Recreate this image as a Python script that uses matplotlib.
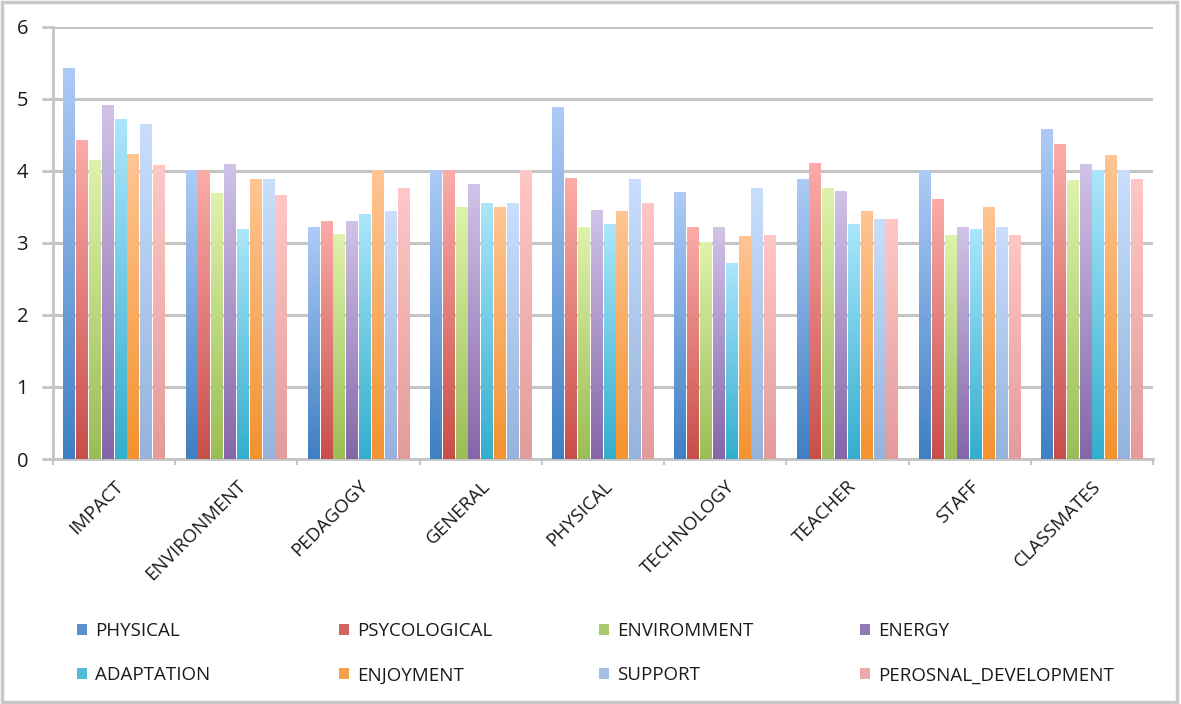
import numpy as np
import matplotlib
matplotlib.use("Agg")
import matplotlib.pyplot as plt
from matplotlib.colors import LinearSegmentedColormap
from matplotlib.patches import Rectangle

plt.rcParams['font.family'] = ['Open Sans', 'DejaVu Sans']

categories = ["IMPACT", "ENVIRONMENT", "PEDAGOGY", "GENERAL", "PHYSICAL",
              "TECHNOLOGY", "TEACHER", "STAFF", "CLASSMATES"]
series = ["PHYSICAL", "PSYCOLOGICAL", "ENVIROMMENT", "ENERGY",
          "ADAPTATION", "ENJOYMENT", "SUPPORT", "PEROSNAL_DEVELOPMENT"]

physical = [5.42, 4.00, 3.21, 4.00, 4.88, 3.70, 3.88, 4.00, 4.57]
psycological = [4.42, 4.00, 3.29, 4.00, 3.89, 3.21, 4.10, 3.60, 4.36]
enviromment = [4.14, 3.69, 3.11, 3.49, 3.21, 3.00, 3.76, 3.10, 3.87]
energy = [4.90, 4.09, 3.29, 3.81, 3.45, 3.21, 3.71, 3.21, 4.09]
adaptation = [4.71, 3.18, 3.39, 3.54, 3.26, 2.72, 3.26, 3.19, 4.00]
enjoyment = [4.22, 3.88, 4.00, 3.49, 3.43, 3.09, 3.43, 3.49, 4.21]
support = [4.65, 3.88, 3.43, 3.54, 3.88, 3.76, 3.32, 3.21, 4.00]
personal = [4.07, 3.66, 3.76, 4.00, 3.54, 3.10, 3.32, 3.10, 3.88]

values = [physical, psycological, enviromment, energy,
          adaptation, enjoyment, support, personal]

# (top colour, bottom colour) of each bar gradient
shades = [("#aecbf6", "#3f7fc3"), ("#fbaca9", "#c84e4a"),
          ("#def3ab", "#9bbd56"), ("#d1c3e8", "#8466a8"),
          ("#abe6fb", "#33aecd"), ("#ffc594", "#f3922e"),
          ("#c9defc", "#95b3dc"), ("#ffc7c6", "#e39b9b")]
mids = ["#5b8fd0", "#d36461", "#aac96c", "#9379b4",
        "#4fbcd8", "#f7a04c", "#a5c0e5", "#eeaaaa"]

fig = plt.figure(figsize=(11.81, 7.04), dpi=100)
ax = fig.add_axes([0.0449, 0.348, 0.9314, 0.614])

x = np.arange(len(categories))
slot = 0.105
width = 0.097
grad = np.linspace(1, 0, 256).reshape(-1, 1)

handles = []
for i, (name, vals) in enumerate(zip(series, values)):
    pos = x + (i - 3.5) * slot
    bars = ax.bar(pos, vals, width, color=mids[i], label=name, zorder=2)
    handles.append(bars)
    cmap = LinearSegmentedColormap.from_list(name, [shades[i][1], shades[i][0]])
    for p, v in zip(pos, vals):
        ax.imshow(grad, cmap=cmap, aspect='auto', zorder=3,
                  extent=(p - width / 2, p + width / 2, 0, v), vmin=0, vmax=1)

ax.set_xlim(-0.5, len(categories) - 0.5)
ax.set_ylim(0, 6)
ax.set_yticks(range(7))
ax.set_xticks(x)
ax.set_xticks(np.arange(len(categories) + 1) - 0.5, minor=True)
ax.set_xticklabels(categories, rotation=45, ha='right', va='top',
                   rotation_mode='anchor', fontsize=13.5, color='#1a1a1a')
ax.tick_params(axis='x', which='major', length=0, pad=13)
ax.tick_params(axis='x', which='minor', length=4, width=1.5, color='#c4c4c4')
ax.tick_params(axis='y', length=8, width=2, color='#c4c4c4', pad=10,
               labelsize=14.5, labelcolor='#1a1a1a')

ax.yaxis.grid(True, color='#c4c4c4', linewidth=2.2, zorder=0)
ax.set_axisbelow(True)
for s in ['top', 'right']:
    ax.spines[s].set_visible(False)
for s in ['left', 'bottom']:
    ax.spines[s].set_color('#c4c4c4')
    ax.spines[s].set_linewidth(2)

# legend: four columns, two rows
col_x = [0.059, 0.281, 0.501, 0.722]
for j in range(4):
    fig.legend(handles=[handles[j], handles[j + 4]], loc='upper left',
               bbox_to_anchor=(col_x[j], 0.127), frameon=False,
               fontsize=13.5, handlelength=0.5, handleheight=0.5,
               handletextpad=0.45, labelspacing=1.4, borderaxespad=0,
               labelcolor='#1a1a1a')

fig.patches.append(Rectangle((0.002, 0.003), 0.995, 0.994, transform=fig.transFigure,
                             fill=False, edgecolor='#c8c8c8', linewidth=2.5))

fig.savefig("out.png", dpi=100)
